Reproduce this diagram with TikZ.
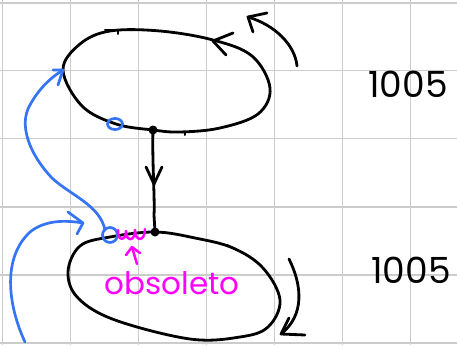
\documentclass[tikz,border=0pt]{standalone}
\usepackage{fontspec}
\newfontfamily\handfont{Poppins}
\definecolor{gridgray}{HTML}{CCCCCC}
\definecolor{penblue}{HTML}{3574F2}
\definecolor{penpink}{HTML}{FF00FF}
\tikzset{
  gridline/.style={draw=gridgray, line width=1.3pt},
  pen/.style={draw=black, line width=2.8pt, line cap=round, line join=round},
  bluepen/.style={draw=penblue, line width=2.7pt, line cap=round, line join=round},
  pinkpen/.style={draw=penpink, line width=2.5pt, line cap=round, line join=round},
  numlabel/.style={font=\handfont\fontsize{36}{36}\selectfont, inner sep=0pt},
}
\begin{document}
\begin{tikzpicture}[x=1pt, y=-1pt]
\useasboundingbox (0,0) rectangle (457,345);
\fill[white] (0,0) rectangle (457,345);
% grid
\foreach \gx in {2.5,70.5,138.5,206.5,274.5,342.5,410.5} \draw[gridline] (\gx,0) -- (\gx,345);
\foreach \gy in {3,70.5,138.5,207,275,343} \draw[gridline] (0,\gy) -- (457,\gy);

% named points
\coordinate (topdot) at (153,130);
\coordinate (botdot) at (155,232);
\coordinate (midtip) at (154,184);

% top ellipse
\draw[pen] plot[smooth cycle, tension=0.6] coordinates {(63,70) (80,44) (110,31) (160,31) (213,40) (252,56) (270,88) (258,114) (220,128) (180,132) (153,130) (116,124) (82,106)};
\draw[pen] (233,33) -- (213,41) -- (226,55);
\draw[pen, line width=2pt] (105,30) -- (118,30) -- (118,34);
\draw[pen, line width=2pt] (180,132) -- (185,132) -- (185,135);
% top right arrow
\coordinate (trs) at (297,66);
\coordinate (trt) at (248,17);
\draw[pen] (trs) .. controls (295,45) and (275,25) .. (trt);
\draw[pen] (267,13) -- (trt) -- (253,32);

% middle connector
\fill (topdot) circle (4.5);
\fill (botdot) circle (4.5);
\draw[pen] (topdot) .. controls (152,160) and (155,200) .. (154,215) -- (botdot);
\draw[pen] (146,167) -- (midtip) -- (162,167);

% bottom ellipse
\draw[pen] plot[smooth cycle, tension=0.6] coordinates {(68,272) (80,246) (110,237) (155,232) (195,238) (233,248) (263,268) (280,300) (268,327) (240,337) (190,339) (115,320) (78,298)};
\draw[pen, line width=2pt] (227,245) -- (237,250);
% bottom right arrow
\coordinate (brs) at (289,259);
\coordinate (brt) at (281,334);
\draw[pen] (brs) .. controls (302,285) and (305,315) .. (brt);
\draw[pen] (289,318) -- (brt) -- (305,335);

% blue circles
\draw[bluepen] (115,124) ellipse [x radius=7.5, y radius=5.5];
\draw[bluepen] (110,235) circle (7.5);
\coordinate (btip1) at (63,70);
\draw[bluepen] (105,230) .. controls (100,205) and (70,195) .. (52,178)
   .. controls (30,155) and (18,125) .. (30,105)
   .. controls (38,90) and (50,78) .. (btip1);
\draw[bluepen] (53,70) -- (btip1) -- (58,85);
\coordinate (btip2) at (83,223);
\coordinate (bstart2) at (25,342);
\draw[bluepen] (bstart2) .. controls (10,310) and (0,260) .. (30,232)
   .. controls (45,220) and (65,220) .. (btip2);
\draw[bluepen] (68,212) -- (btip2) -- (77,234);

% magenta scribbles
\draw[pinkpen] (118,230) .. controls (117,241) and (126,242) .. (126,231)
   .. controls (126,242) and (135,242) .. (135,230)
   .. controls (135,242) and (145,242) .. (145,229);
\coordinate (ptip) at (132,247);
\draw[pinkpen] (137,264) -- (ptip);
\draw[pinkpen] (126,255) -- (ptip) -- (140,253);
\node[text=penpink, font=\handfont\fontsize{31}{31}\selectfont, inner sep=0pt] (obs) at (172,283) {obsoleto};

% labels
\node[numlabel] (n1) at (408,84) {1005};
\node[numlabel] (n2) at (411,270) {1005};
\end{tikzpicture}
\end{document}
